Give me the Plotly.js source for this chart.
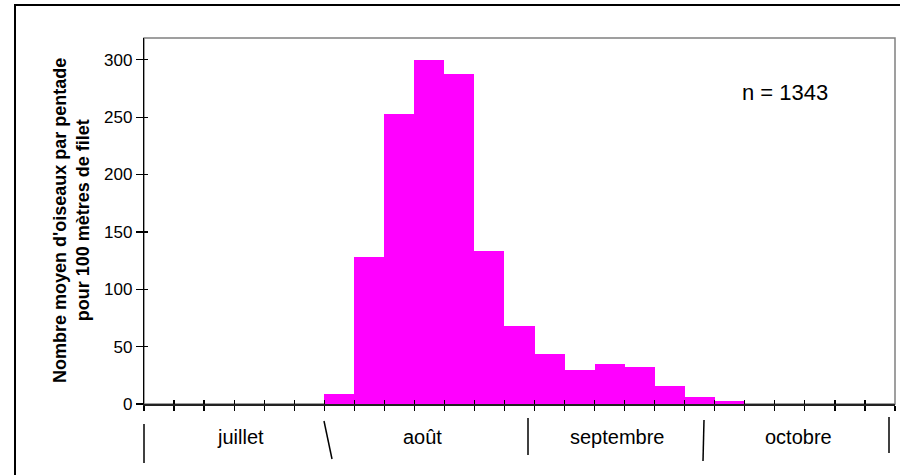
<!DOCTYPE html>
<html>
<head>
<meta charset="utf-8">
<script src="https://cdn.plot.ly/plotly-3.0.1.min.js"></script>
<style>html,body{margin:0;padding:0;background:#fff;}#chart{width:900px;height:475px;}</style>
</head>
<body>
<div id="chart"></div>
<script>
// Pentades (5-day periods) from early July to late October
const pentades = [1,2,3,4,5,6,7,8,9,10,11,12,13,14,15,16,17,18,19,20,21,22,23,24,25];
// Mean number of birds per pentade per 100 m of net
const birds = [0,0,0,0,0,0,9,128,253,300,288,133,68,44,30,35,32,16,6,2.5,0,0,0,0,0];
const months = ["juillet", "août", "septembre", "octobre"];
const sampleText = "n = 1343";
const yTitle = "Nombre moyen d'oiseaux par pentade<br>pour 100 mètres de filet";

// Decoration layout (pixel geometry of the month band below the axis)
const plotL = 144, plotR = 895, plotT = 38, plotB = 404;
const px2x = p => (p - plotL) / (plotR - plotL);
const py2y = p => (plotB - p) / (plotB - plotT);
const sepLines = [[144,424,144,463],[324,421,332,459],[528,418,528,455],[704,420,703,461],[889,417,889,453]];
const labelX = [240, 422, 617, 798];

const shapes = [
  {type:'rect', xref:'paper', yref:'paper', x0:px2x(15), x1:px2x(960), y0:py2y(520), y1:py2y(5),
   line:{color:'#000', width:2}, fillcolor:'rgba(0,0,0,0)', layer:'below'},
  {type:'rect', xref:'paper', yref:'paper', x0:0, x1:1, y0:0, y1:1,
   line:{color:'#808080', width:1.5}, fillcolor:'rgba(0,0,0,0)', layer:'below'}
];
sepLines.forEach(s => shapes.push({type:'line', xref:'paper', yref:'paper',
  x0:px2x(s[0]), y0:py2y(s[1]), x1:px2x(s[2]), y1:py2y(s[3]), line:{color:'#000', width:1.5}}));

const annotations = months.map((m,i) => ({
  text:m, xref:'paper', yref:'paper', x:px2x(labelX[i]), y:py2y(437), xanchor:'center', yanchor:'middle',
  showarrow:false, font:{family:'Liberation Sans, Arial, sans-serif', size:20, color:'#000'}
}));
annotations.push({text:sampleText, xref:'paper', yref:'paper', x:px2x(785), y:py2y(93),
  xanchor:'center', yanchor:'middle', showarrow:false,
  font:{family:'Liberation Sans, Arial, sans-serif', size:22, color:'#000'}});
annotations.push({text:'<b>'+yTitle+'</b>', xref:'paper', yref:'paper', x:px2x(71), y:py2y(221),
  xanchor:'center', yanchor:'middle', textangle:-90, showarrow:false,
  font:{family:'Liberation Sans, Arial, sans-serif', size:18, color:'#000'}});

const data = [
  {type:'bar', x:pentades, y:birds, marker:{color:'#FF00FF', line:{width:0}}, hoverinfo:'x+y'},
  {type:'scatter', x:[pentades[0]], y:[0], xaxis:'x2', yaxis:'y2', mode:'markers',
   marker:{opacity:0}, hoverinfo:'skip', showlegend:false}
];

const xr = [0.5, 25.5], yr = [0, 319];
const layout = {
  width:900, height:475,
  margin:{l:plotL, r:900-plotR, t:plotT, b:475-plotB},
  paper_bgcolor:'#fff', plot_bgcolor:'#fff',
  showlegend:false, bargap:0,
  font:{family:'Liberation Sans, Arial, sans-serif', color:'#000'},
  xaxis:{range:xr, tick0:0.5, dtick:1, ticks:'outside', ticklen:5, tickcolor:'#000', tickwidth:1.2,
    showticklabels:false, showgrid:false, zeroline:false, showline:true, linecolor:'#222', linewidth:2, fixedrange:true},
  yaxis:{range:yr, dtick:50, ticks:'outside', ticklen:7, tickcolor:'#000', tickwidth:1.2,
    tickfont:{size:17, color:'#000'}, showgrid:false, zeroline:false, showline:true, linecolor:'#000', linewidth:1.2, fixedrange:true},
  xaxis2:{range:xr, overlaying:'x', anchor:'y', tick0:0.5, dtick:1, ticks:'inside', ticklen:4, tickcolor:'#000', tickwidth:1.2,
    showticklabels:false, showgrid:false, zeroline:false, showline:false, fixedrange:true},
  yaxis2:{range:yr, overlaying:'y', anchor:'x', dtick:50, ticks:'inside', ticklen:4, tickcolor:'#000', tickwidth:1.2,
    showticklabels:false, showgrid:false, zeroline:false, showline:false, fixedrange:true},
  shapes:shapes, annotations:annotations
};
Plotly.newPlot('chart', data, layout, {displayModeBar:false, staticPlot:true});
</script>
</body>
</html>
